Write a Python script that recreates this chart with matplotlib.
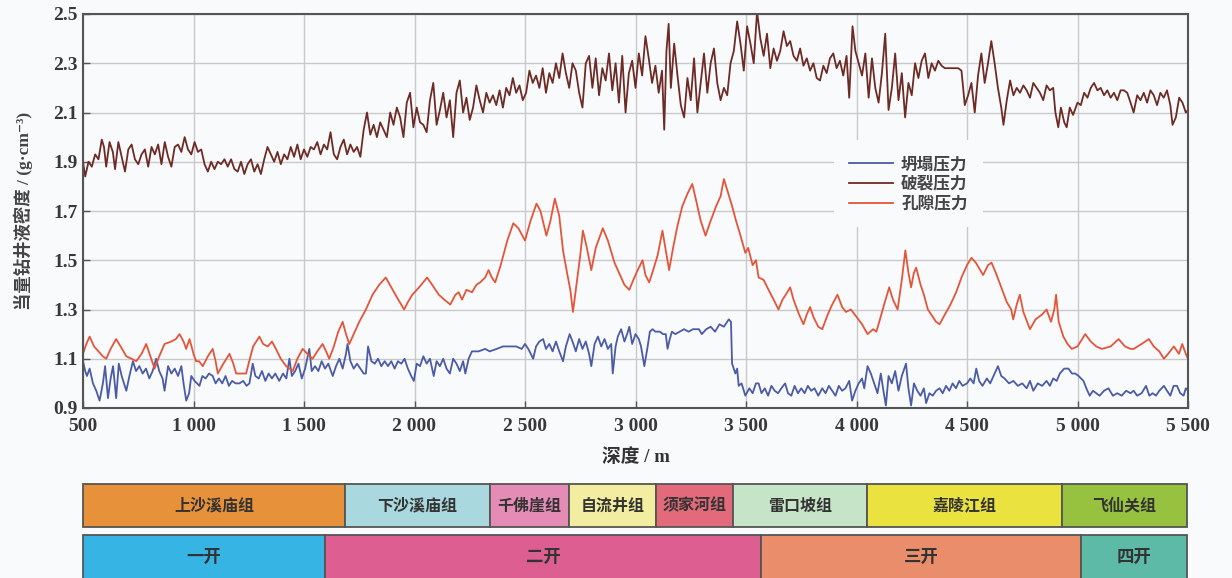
import matplotlib
matplotlib.use("Agg")
import matplotlib.pyplot as plt
import numpy as np

plt.rcParams['font.family'] = ['Liberation Serif', 'Noto Sans CJK SC', 'DejaVu Sans']

# ---------------- data ----------------
frac_depth = [500,510,525,540,555,570,585,595,605,620,635,645,660,675,690,705,720,735,750,765,780,795,810,825,840,855,870,885,900,915,930,945,960,975,990,
1005,1020,1035,1050,1065,1080,1095,1110,1125,1140,1155,1170,1185,1200,1215,1230,1245,1260,1275,1290,1305,1320,1335,1350,1365,1380,1395,1410,1425,1440,1455,1470,1485,
1500,1515,1530,1545,1560,1575,1590,1605,1620,1635,1650,1665,1680,1695,1710,1725,1740,1755,1770,1785,1800,1815,1830,1845,1860,1875,1890,1905,1920,1935,1950,1965,1980,1995,
2010,2025,2040,2055,2070,2085,2100,2115,2130,2145,2160,2175,2190,2205,2220,2235,2250,2265,2280,2295,2310,2325,2340,2355,2370,2385,2400,2415,2430,2445,2460,2475,2490,
2505,2520,2535,2550,2565,2580,2595,2610,2625,2640,2655,2670,2685,2700,2715,2730,2745,2760,2775,2790,2805,2820,2835,2850,2865,2880,2895,2910,2925,2940,2955,2970,2985,
3000,3015,3030,3045,3060,3075,3090,3105,3120,3130,3140,3150,3160,3175,3190,3205,3220,3235,3250,3265,3280,3295,3310,3325,3340,3355,3370,3385,3400,3415,3430,3445,3460,3475,3490,
3505,3520,3535,3550,3565,3580,3595,3610,3625,3640,3655,3670,3685,3700,3715,3730,3745,3760,3775,3790,3805,3820,3835,3850,3865,3880,3895,3910,3925,3940,3955,3967,3982,3995,
4010,4025,4040,4055,4070,4085,4100,4115,4130,4145,4160,4175,4190,4205,4220,4235,4250,4265,4280,4295,4310,4325,4340,4355,4370,4385,4400,4420,4440,4460,4475,4490,
4505,4520,4535,4550,4565,4580,4595,4610,4625,4640,4655,4665,4680,4695,4710,4725,4740,4755,4770,4785,4800,4815,4830,4845,4860,4875,4890,4900,4913,4925,4940,4951,4965,4980,
5000,5015,5030,5045,5060,5075,5090,5105,5120,5135,5150,5165,5180,5195,5210,5225,5240,5254,5270,5285,5300,5315,5330,5345,5360,5375,5390,5405,5420,5430,5445,5460,5475,5490,5500]
frac_val = [1.90,1.84,1.90,1.88,1.93,1.91,1.99,1.96,1.88,1.98,1.94,1.87,1.98,1.92,1.86,1.95,1.97,1.91,1.89,1.93,1.95,1.88,1.96,1.93,1.97,1.89,1.98,1.92,1.88,1.96,1.97,1.94,2.00,1.95,1.93,
1.98,1.94,1.95,1.89,1.86,1.90,1.87,1.90,1.89,1.91,1.88,1.91,1.87,1.86,1.90,1.85,1.89,1.91,1.86,1.89,1.85,1.91,1.96,1.93,1.90,1.94,1.89,1.93,1.91,1.96,1.92,1.97,1.91,
1.95,1.92,1.96,1.95,1.98,1.93,1.97,1.95,2.02,1.93,1.91,1.96,1.99,1.93,1.97,1.94,1.96,1.92,2.03,2.10,2.01,2.05,2.00,2.06,2.03,2.00,2.10,2.05,2.12,2.08,2.00,2.14,2.18,2.04,
2.12,2.06,2.05,2.02,2.15,2.22,2.05,2.11,2.18,2.08,2.15,2.00,2.18,2.23,2.10,2.16,2.07,2.12,2.21,2.15,2.10,2.18,2.14,2.17,2.13,2.19,2.12,2.20,2.17,2.24,2.18,2.21,2.15,
2.18,2.27,2.22,2.25,2.20,2.28,2.18,2.26,2.22,2.30,2.24,2.34,2.26,2.20,2.30,2.27,2.18,2.12,2.30,2.33,2.20,2.32,2.17,2.28,2.23,2.34,2.19,2.30,2.14,2.33,2.10,2.26,2.31,
2.20,2.34,2.25,2.41,2.32,2.22,2.29,2.18,2.27,2.03,2.35,2.46,2.20,2.38,2.25,2.13,2.08,2.24,2.15,2.32,2.10,2.22,2.34,2.18,2.30,2.36,2.22,2.15,2.20,2.17,2.30,2.35,2.47,2.38,2.27,
2.45,2.38,2.30,2.51,2.40,2.33,2.42,2.28,2.36,2.31,2.35,2.43,2.37,2.39,2.33,2.31,2.36,2.29,2.32,2.27,2.30,2.24,2.23,2.29,2.26,2.32,2.34,2.28,2.31,2.25,2.33,2.16,2.45,2.35,
2.30,2.25,2.34,2.16,2.32,2.20,2.14,2.26,2.42,2.11,2.20,2.34,2.15,2.26,2.08,2.22,2.17,2.30,2.24,2.31,2.34,2.24,2.30,2.27,2.31,2.29,2.28,2.28,2.28,2.28,2.27,2.13,
2.17,2.22,2.10,2.25,2.34,2.22,2.30,2.39,2.30,2.20,2.12,2.05,2.15,2.23,2.17,2.20,2.18,2.21,2.19,2.16,2.22,2.20,2.18,2.15,2.21,2.19,2.20,2.10,2.04,2.12,2.06,2.04,2.12,2.09,
2.14,2.13,2.18,2.16,2.20,2.22,2.19,2.20,2.17,2.19,2.16,2.18,2.15,2.19,2.19,2.18,2.14,2.10,2.17,2.15,2.18,2.14,2.19,2.17,2.13,2.18,2.16,2.19,2.13,2.05,2.08,2.16,2.14,2.10,2.11]

pore_depth = [500,515,530,550,570,590,605,625,650,670,696,720,741,765,786,805,824,845,869,900,920,937,955,967,982,1000,1012,1025,1042,1065,1087,1100,1110,1135,1163,1180,1193,1215,1238,1255,1270,1298,1315,1336,1355,1373,1395,1419,1435,1449,1470,1494,1515,1539,1560,1584,1600,1614,1635,1655,1675,1690,1705,1725,1750,1780,1810,1840,1870,1895,1920,1940,1953,1970,1990,2021,2057,2080,2110,2135,2162,2185,2200,2215,2235,2260,2280,2297,2320,2335,2350,2365,2390,2420,2447,2470,2500,2525,2552,2570,2597,2615,2635,2655,2672,2690,2705,2717,2730,2750,2762,2780,2800,2820,2852,2875,2905,2930,2950,2972,2990,3010,3032,3045,3062,3080,3100,3122,3135,3152,3170,3190,3212,3235,3257,3275,3295,3317,3340,3365,3385,3400,3420,3437,3455,3475,3497,3510,3530,3545,3557,3580,3602,3625,3647,3665,3680,3700,3715,3740,3760,3775,3790,3805,3827,3845,3870,3890,3914,3935,3952,3975,4000,4025,4050,4075,4090,4103,4125,4148,4165,4186,4205,4221,4235,4247,4260,4270,4290,4305,4323,4345,4360,4376,4400,4425,4451,4475,4500,4520,4540,4560,4573,4595,4611,4630,4655,4680,4700,4709,4725,4739,4755,4785,4810,4840,4860,4880,4895,4903,4915,4936,4955,4974,5000,5035,5060,5085,5110,5150,5186,5215,5240,5254,5290,5323,5345,5370,5391,5410,5436,5459,5474,5490,5500]
pore_val = [1.12,1.16,1.19,1.15,1.13,1.11,1.10,1.14,1.18,1.15,1.11,1.10,1.09,1.12,1.16,1.11,1.06,1.11,1.16,1.17,1.18,1.20,1.17,1.14,1.18,1.12,1.09,1.09,1.07,1.11,1.14,1.09,1.04,1.08,1.12,1.08,1.04,1.04,1.04,1.10,1.15,1.19,1.16,1.15,1.17,1.14,1.10,1.07,1.06,1.05,1.10,1.14,1.12,1.10,1.13,1.16,1.13,1.10,1.15,1.21,1.25,1.20,1.16,1.20,1.25,1.30,1.36,1.40,1.43,1.39,1.35,1.32,1.30,1.33,1.36,1.39,1.43,1.40,1.36,1.34,1.32,1.36,1.37,1.34,1.38,1.37,1.40,1.41,1.43,1.46,1.43,1.41,1.48,1.58,1.65,1.63,1.58,1.66,1.73,1.70,1.60,1.66,1.75,1.68,1.54,1.45,1.38,1.29,1.38,1.52,1.62,1.55,1.46,1.55,1.63,1.58,1.49,1.44,1.40,1.38,1.42,1.46,1.50,1.44,1.41,1.46,1.52,1.62,1.55,1.46,1.55,1.64,1.72,1.77,1.81,1.74,1.66,1.60,1.66,1.72,1.76,1.83,1.77,1.72,1.66,1.60,1.53,1.55,1.48,1.50,1.43,1.42,1.38,1.34,1.30,1.34,1.36,1.39,1.34,1.28,1.24,1.28,1.31,1.27,1.23,1.22,1.28,1.32,1.36,1.31,1.29,1.30,1.27,1.24,1.20,1.22,1.21,1.25,1.32,1.39,1.34,1.30,1.42,1.54,1.45,1.39,1.45,1.47,1.40,1.36,1.30,1.27,1.25,1.24,1.28,1.32,1.37,1.43,1.48,1.51,1.49,1.46,1.44,1.48,1.49,1.45,1.39,1.33,1.30,1.26,1.32,1.36,1.29,1.22,1.26,1.28,1.30,1.25,1.30,1.36,1.25,1.19,1.16,1.14,1.15,1.20,1.17,1.15,1.14,1.15,1.18,1.15,1.14,1.14,1.16,1.18,1.15,1.13,1.10,1.12,1.15,1.12,1.16,1.12,1.10]

coll_depth = [500,510,518,530,545,560,575,590,600,613,625,636,650,662,675,696,710,726,740,755,770,785,800,815,831,845,860,869,885,900,915,930,945,955,967,980,990,1005,1027,1040,1055,1070,1087,1100,1115,1130,1145,1160,1175,1190,1208,1225,1240,1253,1268,1280,1295,1310,1325,1340,1355,1370,1388,1405,1420,1434,1445,1460,1475,1490,1505,1524,1535,1550,1565,1580,1595,1610,1630,1645,1660,1675,1690,1697,1710,1725,1740,1755,1770,1780,1790,1805,1820,1835,1850,1865,1880,1895,1910,1925,1940,1955,1970,1985,1997,2010,2025,2040,2055,2070,2087,2100,2115,2130,2145,2160,2175,2190,2205,2220,2230,2245,2260,2290,2320,2340,2372,2400,2430,2460,2485,2500,2515,2537,2550,2565,2582,2595,2610,2625,2640,2655,2672,2685,2702,2715,2730,2745,2760,2775,2790,2800,2815,2830,2845,2860,2875,2890,2897,2910,2920,2935,2950,2962,2972,2985,3000,3015,3025,3040,3055,3065,3077,3090,3110,3125,3137,3145,3155,3165,3180,3200,3220,3240,3260,3287,3300,3320,3340,3360,3380,3400,3422,3432,3437,3452,3460,3467,3480,3497,3515,3530,3545,3557,3570,3585,3600,3615,3630,3645,3660,3677,3690,3705,3720,3735,3750,3765,3780,3795,3810,3827,3845,3860,3875,3890,3905,3920,3935,3950,3967,3980,3995,4010,4025,4035,4050,4065,4080,4095,4110,4120,4133,4145,4160,4175,4190,4205,4224,4235,4247,4260,4275,4290,4305,4315,4330,4345,4360,4376,4390,4405,4420,4435,4450,4465,4480,4500,4515,4530,4542,4555,4570,4590,4605,4620,4640,4655,4670,4690,4710,4730,4750,4770,4785,4800,4820,4840,4860,4875,4890,4906,4920,4940,4959,4975,4990,5005,5027,5040,5055,5070,5085,5100,5120,5140,5160,5180,5200,5220,5240,5254,5270,5290,5310,5325,5340,5355,5370,5391,5405,5420,5435,5450,5465,5480,5490,5500]
coll_val = [1.09,1.05,1.03,1.06,1.00,0.97,0.93,1.00,1.07,0.94,1.02,1.07,0.94,1.08,1.03,0.97,1.03,1.09,1.05,1.07,1.04,1.06,1.02,1.05,1.10,1.05,1.02,0.97,1.07,1.04,1.06,1.03,1.07,1.00,0.93,0.96,1.03,1.01,0.99,1.03,1.02,1.04,1.03,1.00,1.02,1.00,1.03,0.99,1.01,1.00,1.00,1.01,0.99,1.00,1.08,1.03,1.02,1.05,1.01,1.04,1.02,1.04,1.01,1.04,1.02,1.10,1.03,1.05,1.08,1.02,1.06,1.14,1.05,1.07,1.05,1.09,1.06,1.08,1.03,1.07,1.10,1.06,1.12,1.16,1.09,1.06,1.08,1.06,1.04,1.04,1.15,1.09,1.08,1.10,1.07,1.09,1.07,1.09,1.06,1.09,1.08,1.10,1.06,1.03,1.01,1.08,1.07,1.11,1.08,1.10,1.03,1.09,1.07,1.10,1.06,1.04,1.10,1.08,1.05,1.09,1.04,1.10,1.13,1.13,1.14,1.13,1.14,1.15,1.15,1.15,1.14,1.16,1.14,1.10,1.15,1.17,1.18,1.14,1.16,1.13,1.17,1.13,1.09,1.15,1.20,1.17,1.13,1.18,1.14,1.17,1.12,1.07,1.16,1.19,1.15,1.18,1.14,1.16,1.04,1.15,1.19,1.22,1.17,1.20,1.23,1.16,1.20,1.18,1.15,1.07,1.15,1.21,1.22,1.21,1.21,1.20,1.20,1.14,1.18,1.21,1.20,1.21,1.22,1.21,1.22,1.22,1.20,1.22,1.23,1.21,1.24,1.23,1.26,1.25,1.08,1.04,1.06,0.99,1.00,0.95,0.98,0.96,1.00,1.00,0.96,0.98,0.95,0.99,0.97,0.96,0.98,1.00,0.96,0.95,0.99,0.96,0.98,0.96,0.99,0.97,0.98,0.95,0.98,0.96,0.99,0.97,0.95,0.99,0.97,0.98,1.01,0.93,0.97,1.00,1.02,0.98,1.07,1.04,1.00,0.96,1.04,0.98,0.91,1.03,1.00,1.05,0.97,1.03,1.08,0.98,0.91,1.00,0.97,0.95,0.98,0.92,0.96,0.95,0.97,0.98,0.96,0.99,0.97,1.00,0.98,1.01,0.99,1.00,1.02,1.00,1.06,1.01,0.99,1.02,1.00,1.03,1.07,1.03,1.02,1.00,1.01,0.99,1.00,0.98,1.01,0.97,1.00,0.99,1.01,0.99,1.02,1.01,1.04,1.06,1.06,1.04,1.04,1.03,1.01,0.98,0.95,0.97,0.96,0.95,0.97,0.98,0.95,0.96,0.95,0.97,0.96,0.97,0.95,0.96,0.99,0.95,0.96,0.95,0.97,0.99,0.97,0.95,0.99,0.99,0.96,0.95,0.98,0.97]

series_names = ['坍塌压力', '破裂压力', '孔隙压力']

formation_names = ['上沙溪庙组', '下沙溪庙组', '千佛崖组', '自流井组', '须家河组', '雷口坡组', '嘉陵江组', '飞仙关组']
formation_bounds = [500, 1686, 2342, 2699, 3093, 3441, 4048, 4930, 5495]
formation_colors = ['#E8913B', '#A9D9DE', '#E58CB6', '#F2EDA0', '#E26A7A', '#C6E4C8', '#EAE33F', '#97C23F']

stage_names = ['一开', '二开', '三开', '四开']
stage_bounds = [500, 1595, 3568, 5016, 5495]
stage_colors = ['#36B5E5', '#DD5F91', '#EA8D6B', '#5DBAA7']

xticks = [500, 1000, 1500, 2000, 2500, 3000, 3500, 4000, 4500, 5000, 5500]
xtick_labels = ['500', '1 000', '1 500', '2 000', '2 500', '3 000', '3 500', '4 000', '4 500', '5 000', '5 500']
yticks = [0.9, 1.1, 1.3, 1.5, 1.7, 1.9, 2.1, 2.3, 2.5]

# ---------------- figure ----------------
W, H = 1232, 578
fig = plt.figure(figsize=(W / 100, H / 100), dpi=100)
bg = '#F8FAFC'
fig.patch.set_facecolor(bg)

def fx(px):
    return px / W

def fy(py):
    return 1 - py / H

label_family = ['Liberation Serif', 'Noto Sans CJK SC', 'DejaVu Sans']

ax = fig.add_axes([fx(83), fy(408), fx(1188) - fx(83), fy(14) - fy(408)])
ax.set_facecolor(bg)
ax.plot(coll_depth, coll_val, color='#4B5BA6', lw=1.3, label=series_names[0])
ax.plot(frac_depth, frac_val, color='#6E2B25', lw=1.3, label=series_names[1])
ax.plot(pore_depth, pore_val, color='#E4553A', lw=1.3, label=series_names[2])
ax.set_xlim(500, 5500)
ax.set_ylim(0.9, 2.5)
ax.set_xticks(xticks)
ax.set_xticklabels(xtick_labels)
ax.set_yticks(yticks)
ax.set_yticklabels([f'{v:.1f}' for v in yticks])
ax.grid(True, color='#C9C9C9', lw=1.0)
ax.set_axisbelow(True)
for s in ax.spines.values():
    s.set_color('#555555')
    s.set_linewidth(1.5)
ax.tick_params(direction='in', length=5, width=1, colors='#555555', labelsize=14,
               labelcolor='#383838')
ax.tick_params(axis='x', pad=7)
ax.tick_params(axis='y', pad=4)
for lab in ax.get_xticklabels() + ax.get_yticklabels():
    lab.set_fontweight('bold')
ax.set_xlabel('深度 / m', fontsize=13.5, fontweight='bold', color='#333333',
              family=label_family, labelpad=10)
ax.set_ylabel('当量钻井液密度 / (g·cm⁻³)', fontsize=12.5, fontweight='bold',
              color='#444444', family=label_family, labelpad=14)

leg = ax.legend(loc='upper left', bbox_to_anchor=(0.68, 0.68), frameon=True,
                prop={'family': 'Noto Sans CJK SC', 'size': 12, 'weight': 'bold'},
                handlelength=2.6, handletextpad=0.5, labelspacing=0.1,
                borderpad=0.9, borderaxespad=0)
leg.get_frame().set_facecolor(bg)
leg.get_frame().set_edgecolor('none')
leg.get_frame().set_alpha(1)
for t in leg.get_texts():
    t.set_color('#444444')

def band(ax_b, bounds, names, colors, fs, ty):
    ax_b.set_xlim(500, 5500)
    ax_b.set_ylim(0, 1)
    ax_b.axis('off')
    for i, name in enumerate(names):
        x0, x1 = bounds[i], bounds[i + 1]
        ax_b.add_patch(plt.Rectangle((x0, 0), x1 - x0, 1, facecolor=colors[i],
                                     edgecolor='#555555', lw=1.3, clip_on=False))
        ax_b.text((x0 + x1) / 2, ty, name, ha='center', va='center', fontsize=fs,
                  fontweight='bold', color='#333333', family=['Noto Sans CJK SC'])

axf = fig.add_axes([fx(83), fy(527), fx(1188) - fx(83), fy(484) - fy(527)])
band(axf, formation_bounds, formation_names, formation_colors, 11.5, 0.5)

axs = fig.add_axes([fx(83), fy(535) - 0.09, fx(1188) - fx(83), 0.09])
band(axs, stage_bounds, stage_names, stage_colors, 12.5, 0.58)

fig.savefig('out.png', dpi=100, facecolor=bg)
